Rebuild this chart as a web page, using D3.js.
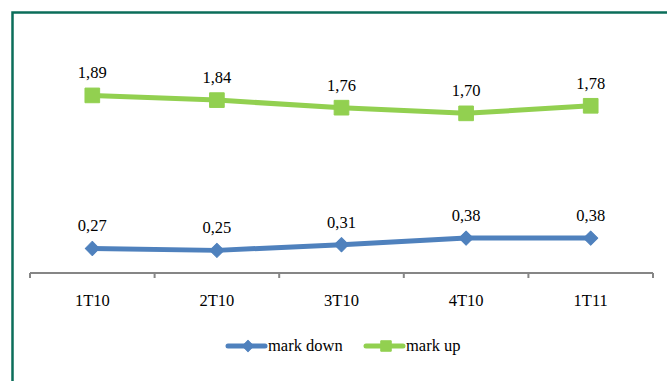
<!DOCTYPE html>
<html>
<head>
<meta charset="utf-8">
<script src="https://cdn.jsdelivr.net/npm/d3@7/dist/d3.min.js"></script>
<style>
  html, body { margin: 0; padding: 0; background: #fff; }
  svg { display: block; }
  text { font-family: "Liberation Serif", "Times New Roman", serif; fill: #000; }
</style>
</head>
<body>
<svg id="chart" width="667" height="381"></svg>
<script>
const categories = ["1T10", "2T10", "3T10", "4T10", "1T11"];
const markDown = [0.27, 0.25, 0.31, 0.38, 0.38];
const markUp = [1.89, 1.84, 1.76, 1.70, 1.78];
const seriesNames = ["mark down", "mark up"];

const blue = "#4F81BD";
const green = "#92D050";

const svg = d3.select("#chart");
const W = 667, H = 381;

// chart frame (left and top edges visible)
svg.append("rect")
  .attr("x", 12.5).attr("y", 12.5)
  .attr("width", W + 20).attr("height", H + 20)
  .attr("fill", "#fff")
  .attr("stroke", "#0B6E5A")
  .attr("stroke-width", 2.5);

const x = d3.scaleBand().domain(categories).range([30, 653]).padding(0);
const y = d3.scaleLinear().domain([0, 2]).range([274, 85]);

// category axis
const gAxis = svg.append("g").attr("transform", "translate(0,273)");
gAxis.append("line")
  .attr("x1", 30).attr("x2", 653).attr("y1", 0).attr("y2", 0)
  .attr("stroke", "#868686").attr("stroke-width", 2);
const boundaries = categories.map(c => x(c)).concat([x(categories[categories.length - 1]) + x.bandwidth()]);
gAxis.selectAll("line.tickmark").data(boundaries).enter().append("line")
  .attr("class", "tickmark")
  .attr("x1", d => d).attr("x2", d => d)
  .attr("y1", 0).attr("y2", 5)
  .attr("stroke", "#868686").attr("stroke-width", 2);
svg.append("g").selectAll("text").data(categories).enter().append("text")
  .attr("x", d => x(d) + x.bandwidth() / 2)
  .attr("y", 306)
  .attr("text-anchor", "middle")
  .attr("font-size", 16.5)
  .text(d => d);

const cx = d => x(d) + x.bandwidth() / 2;
const line = d3.line().x(d => cx(d.c)).y(d => y(d.v));

// marker: square, or a square turned 45 degrees for the diamond
function marker(isDiamond, size) {
  return d3.symbol().type(d3.symbolSquare).size(size)();
}

function drawSeries(values, color, isDiamond) {
  const data = categories.map((c, i) => ({ c, v: values[i] }));
  svg.append("path").datum(data)
    .attr("d", line)
    .attr("fill", "none")
    .attr("stroke", color)
    .attr("stroke-width", 5)
    .attr("stroke-linejoin", "round")
    .attr("stroke-linecap", "round");
  svg.append("g").selectAll("path").data(data).enter().append("path")
    .attr("d", marker(isDiamond, isDiamond ? 100 : 215))
    .attr("transform", d => `translate(${cx(d.c)},${y(d.v)})` + (isDiamond ? " rotate(45)" : ""))
    .attr("fill", color)
    .attr("stroke", color)
    .attr("stroke-width", 1)
    .attr("stroke-linejoin", "round");
  svg.append("g").selectAll("text").data(data).enter().append("text")
    .attr("x", d => cx(d.c))
    .attr("y", d => y(d.v) - 17)
    .attr("text-anchor", "middle")
    .attr("font-size", 16.5)
    .text(d => d.v.toFixed(2).replace(".", ","));
}

drawSeries(markDown, blue, true);
drawSeries(markUp, green, false);

// legend
const legend = [
  { name: seriesNames[0], color: blue, diamond: true, x0: 228 },
  { name: seriesNames[1], color: green, diamond: false, x0: 366 }
];
const lg = svg.append("g");
legend.forEach(l => {
  lg.append("line")
    .attr("x1", l.x0).attr("x2", l.x0 + 37)
    .attr("y1", 346).attr("y2", 346)
    .attr("stroke", l.color).attr("stroke-width", 5)
    .attr("stroke-linecap", "round");
  lg.append("path")
    .attr("d", marker(l.diamond, l.diamond ? 64 : 110))
    .attr("transform", `translate(${l.x0 + 20},346)` + (l.diamond ? " rotate(45)" : ""))
    .attr("fill", l.color)
    .attr("stroke", l.color)
    .attr("stroke-width", 1)
    .attr("stroke-linejoin", "round");
  lg.append("text")
    .attr("x", l.x0 + 40).attr("y", 351)
    .attr("font-size", 16.5)
    .text(l.name);
});
</script>
</body>
</html>
